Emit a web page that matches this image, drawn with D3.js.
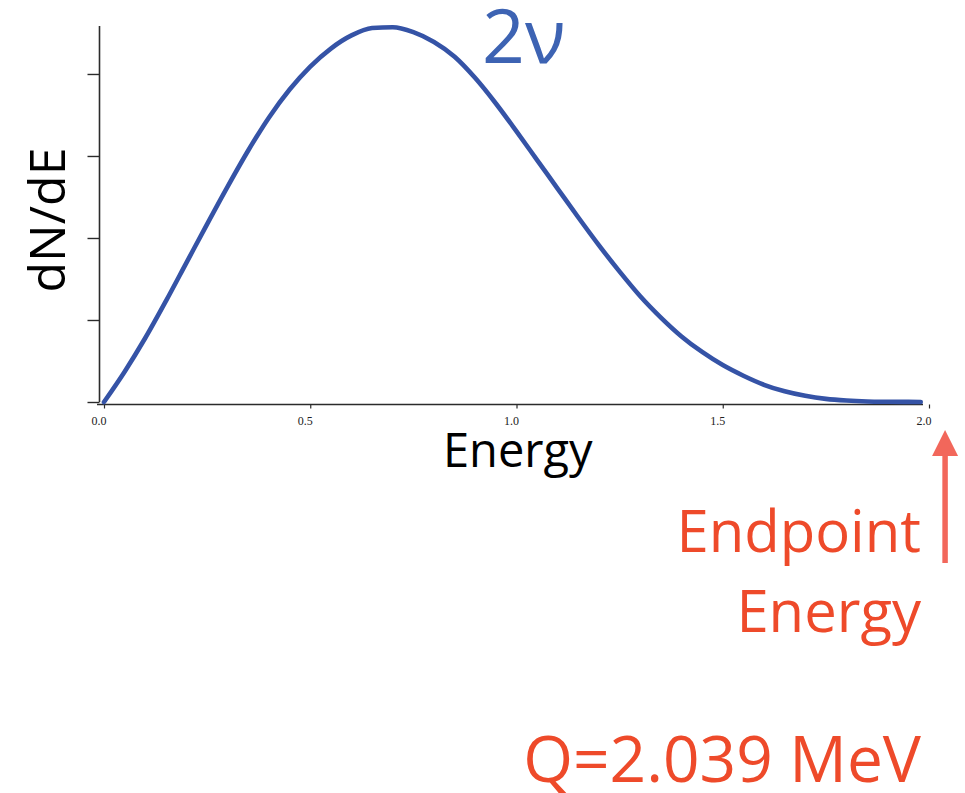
<!DOCTYPE html>
<html>
<head>
<meta charset="utf-8">
<script src="https://cdn.jsdelivr.net/npm/d3@7"></script>
<style>
  html, body { margin: 0; padding: 0; background: #ffffff; }
  svg { display: block; }
</style>
</head>
<body>
<script>
// Two-neutrino double beta decay: summed electron energy spectrum (MeV)
const energy = [0, 0.05, 0.10, 0.15, 0.20, 0.25, 0.30, 0.35, 0.40, 0.45,
                0.50, 0.55, 0.60, 0.65, 0.70, 0.75, 0.80, 0.85, 0.90, 0.95,
                1.00, 1.05, 1.10, 1.15, 1.20, 1.25, 1.30, 1.35, 1.40, 1.45,
                1.50, 1.55, 1.60, 1.65, 1.70, 1.75, 1.80, 1.85, 1.90, 1.95, 1.98];
const dNdE = [0, 0.37, 0.78, 1.23, 1.70, 2.17, 2.63, 3.07, 3.47, 3.81,
              4.09, 4.31, 4.47, 4.56, 4.57, 4.51, 4.39, 4.21, 3.95, 3.64,
              3.30, 2.95, 2.60, 2.25, 1.91, 1.59, 1.29, 1.03, 0.80, 0.61,
              0.45, 0.32, 0.21, 0.13, 0.075, 0.038, 0.018, 0.007, 0.003, 0.001, 0];

const xTickValues = [0, 0.5, 1.0, 1.5, 2.0];
const xTickLabels = ["0.0", "0.5", "1.0", "1.5", "2.0"];
const yTickValues = [0, 1, 2, 3, 4];
const qValue = 2.039;   // endpoint energy, MeV

const W = 965, H = 793;
const svg = d3.select("body").append("svg").attr("width", W).attr("height", H);

const x = d3.scaleLinear().domain([0, 2]).range([104, 929]);
const y = d3.scaleLinear().domain([0, 4.585]).range([402, 26]);

const axisColor = "#2b2b2b";
const curveColor = "#3553a6";
const labelBlue = "#3d63b3";
const red = "#ee4a2a";
const arrowRed = "#f2675b";
const sans = "'Open Sans', 'Noto Sans', sans-serif";

// y axis: plain line with left-pointing ticks, no labels
const yAxis = d3.axisLeft(y).tickValues(yTickValues).tickSize(12).tickFormat("");
const gy = svg.append("g").attr("transform", "translate(99.5,0)").call(yAxis);
gy.select(".domain").attr("d", `M0,${y.range()[1]}V${y.range()[0]}`)
  .attr("stroke", axisColor).attr("stroke-width", 1.6);
gy.selectAll(".tick line").attr("stroke", axisColor).attr("stroke-width", 1.4);

// x axis: short downward ticks, small serif labels ending at the tick
const xAxis = d3.axisBottom(x).tickValues(xTickValues).tickSize(4)
  .tickFormat((d, i) => xTickLabels[i]);
const gx = svg.append("g").attr("transform", "translate(0,404.5)").call(xAxis);
gx.select(".domain").attr("d", "M97,0H923").attr("stroke", axisColor).attr("stroke-width", 1.6);
gx.selectAll(".tick line").attr("stroke", axisColor).attr("stroke-width", 1.2);
gx.selectAll(".tick text")
  .attr("font-family", "'Liberation Serif', 'DejaVu Serif', serif")
  .attr("font-size", 12)
  .attr("fill", "#222")
  .attr("text-anchor", "end")
  .attr("x", 2)
  .attr("y", 12)
  .attr("dy", "0.71em");

// spectrum curve
const line = d3.line()
  .x((d, i) => x(energy[i]))
  .y(d => y(d))
  .curve(d3.curveMonotoneX);
svg.append("path")
  .datum(dNdE)
  .attr("d", line)
  .attr("fill", "none")
  .attr("stroke", curveColor)
  .attr("stroke-width", 4.6)
  .attr("stroke-linejoin", "round")
  .attr("stroke-linecap", "round");

// axis titles
svg.append("text")
  .attr("transform", "translate(65,220) rotate(-90)")
  .attr("text-anchor", "middle")
  .attr("font-family", sans)
  .attr("font-size", 50)
  .attr("fill", "#000")
  .text("dN/dE");

svg.append("text")
  .attr("x", 443).attr("y", 467)
  .attr("font-family", sans)
  .attr("font-size", 47)
  .attr("fill", "#000")
  .text("Energy");

// curve label
svg.append("text")
  .attr("x", 482).attr("y", 63)
  .attr("font-family", sans)
  .attr("font-size", 75)
  .attr("fill", labelBlue)
  .text("2ν");

// endpoint annotation
const qx = x(qValue);
svg.append("line")
  .attr("x1", qx).attr("x2", qx)
  .attr("y1", 563).attr("y2", 450)
  .attr("stroke", arrowRed).attr("stroke-width", 5.5);
svg.append("path")
  .attr("d", `M${qx},430L${qx + 13},456L${qx - 13},456Z`)
  .attr("fill", arrowRed);

const rightEdge = 921;
svg.append("text")
  .attr("x", rightEdge).attr("y", 552)
  .attr("text-anchor", "end")
  .attr("font-family", sans).attr("font-size", 58)
  .attr("fill", red)
  .text("Endpoint");
svg.append("text")
  .attr("x", rightEdge).attr("y", 632)
  .attr("text-anchor", "end")
  .attr("font-family", sans).attr("font-size", 58)
  .attr("fill", red)
  .text("Energy");
svg.append("text")
  .attr("x", rightEdge).attr("y", 782)
  .attr("text-anchor", "end")
  .attr("font-family", sans).attr("font-size", 64)
  .attr("fill", red)
  .text(`Q=${qValue} MeV`);
</script>
</body>
</html>
